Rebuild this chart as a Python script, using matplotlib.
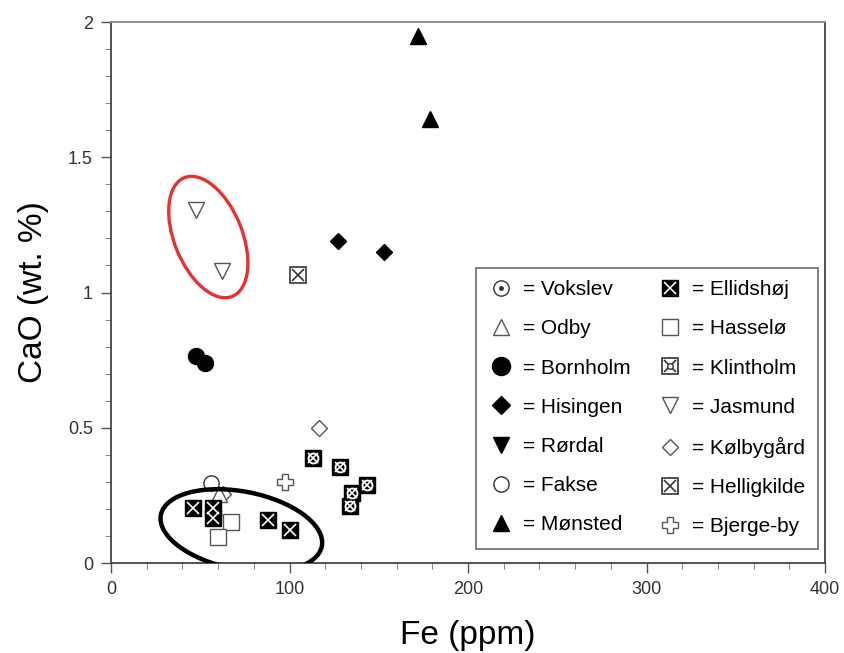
import numpy as np
import matplotlib.pyplot as plt
from matplotlib.lines import Line2D
from matplotlib.patches import Ellipse
from matplotlib import transforms
from matplotlib.legend_handler import HandlerTuple

plt.rcParams['font.family'] = ['Liberation Sans', 'DejaVu Sans']

# data (Fe ppm, CaO wt.%)
monsted_fe = [172, 178.5]
monsted_cao = [1.95, 1.64]
hisingen_fe = [127, 153]
hisingen_cao = [1.19, 1.15]
jasmund_fe = [47.5, 62]
jasmund_cao = [1.305, 1.08]
bornholm_fe = [47.5, 52.5]
bornholm_cao = [0.765, 0.74]
kolbygard_fe = [116.5, 63]
kolbygard_cao = [0.50, 0.255]
bjerge_fe = [97.5]
bjerge_cao = [0.30]
klintholm_fe = [113, 128.5, 135, 143.5, 134]
klintholm_cao = [0.39, 0.355, 0.26, 0.29, 0.21]
helligkilde_fe = [105]
helligkilde_cao = [1.065]
fakse_fe = [56]
fakse_cao = [0.296]
odby_fe = [60.5]
odby_cao = [0.255]
ellidshoj_fe = [46, 57, 57, 88, 100]
ellidshoj_cao = [0.205, 0.205, 0.168, 0.16, 0.122]
hasselo_fe = [67, 60]
hasselo_cao = [0.152, 0.098]

fig = plt.figure(figsize=(8.45, 6.53), dpi=100)
ax = fig.add_axes([0.1314, 0.1378, 0.845, 0.8285])

def ellidshoj_style(ms):
    return [dict(marker='s', ms=ms, mfc='black', mec='black', ls='none'),
            dict(marker='x', ms=ms * 0.75, mec='white', mew=1.2, ls='none')]

def klintholm_style(ms):
    return [dict(marker='s', ms=ms, mfc='black', mec='black', ls='none'),
            dict(marker='o', ms=ms * 0.62, mfc='none', mec='white', mew=1.4, ls='none'),
            dict(marker='x', ms=ms * 0.6, mec='white', mew=1.2, ls='none')]

def helligkilde_style(ms):
    return [dict(marker='s', ms=ms, mfc='white', mec='#333333', mew=1.2, ls='none'),
            dict(marker='x', ms=ms * 0.85, mec='#333333', mew=1.2, ls='none')]

def plot_layers(x, y, layers):
    for st in layers:
        ax.plot(x, y, **st, zorder=3)

plot_layers(monsted_fe, monsted_cao, [dict(marker='^', ms=12, color='black', ls='none')])
plot_layers(hisingen_fe, hisingen_cao, [dict(marker='D', ms=8.5, color='black', ls='none')])
plot_layers(jasmund_fe, jasmund_cao, [dict(marker='v', ms=11, mfc='white', mec='#555555', ls='none')])
plot_layers(bornholm_fe, bornholm_cao, [dict(marker='o', ms=11.5, color='black', ls='none')])
plot_layers(kolbygard_fe, kolbygard_cao, [dict(marker='D', ms=8, mfc='white', mec='#555555', ls='none')])
plot_layers(bjerge_fe, bjerge_cao, [dict(marker='P', ms=12, mfc='white', mec='#555555', ls='none')])
plot_layers(helligkilde_fe, helligkilde_cao, helligkilde_style(11))
plot_layers(klintholm_fe, klintholm_cao, klintholm_style(11.5))
plot_layers(fakse_fe, fakse_cao, [dict(marker='o', ms=11, mfc='white', mec='#333333', ls='none')])
plot_layers(odby_fe, odby_cao, [dict(marker='^', ms=11, mfc='white', mec='#555555', ls='none')])
plot_layers(ellidshoj_fe, ellidshoj_cao, ellidshoj_style(12))
plot_layers(hasselo_fe, hasselo_cao, [dict(marker='s', ms=12, mfc='white', mec='#555555', ls='none')])

# hand-drawn group outlines (sizes in inches, centred on data coords)
def outline(cx, cy, w, h, ang, color, lw):
    tr = fig.dpi_scale_trans + transforms.ScaledTranslation(cx, cy, ax.transData)
    ax.add_patch(Ellipse((0, 0), w, h, angle=ang, transform=tr, fill=False,
                         ec=color, lw=lw, zorder=4))

outline(73, 0.12, 1.64, 0.78, -11, 'black', 3.2)
outline(54.5, 1.205, 0.68, 1.28, 22, '#e8302e', 2.4)

ax.set_xlim(0, 400)
ax.set_ylim(0, 2)
ax.set_xticks([0, 100, 200, 300, 400])
ax.set_xticks(np.arange(0, 401, 20), minor=True)
ax.set_yticks([0, 0.5, 1, 1.5, 2])
ax.set_yticklabels(['0', '0.5', '1', '1.5', '2'])
ax.set_yticks(np.arange(0, 2.01, 0.1), minor=True)
ax.tick_params(which='major', direction='out', length=7, width=1, color='#555555',
               labelsize=13, labelcolor='#333333', pad=6)
ax.tick_params(which='minor', direction='out', length=4, width=0.8, color='#888888')
for s in ax.spines.values():
    s.set_color('#444444')
    s.set_linewidth(1.3)
ax.spines['top'].set_color('#888888')

ax.set_xlabel('Fe (ppm)', fontsize=24, labelpad=16)
ax.set_ylabel('CaO (wt. %)', fontsize=24, labelpad=14)

def h(layers):
    return tuple(Line2D([], [], **st) for st in layers)

grey = '#555555'
names = ['Vokslev', 'Odby', 'Bornholm', 'Hisingen', 'Rørdal', 'Fakse', 'Mønsted',
         'Ellidshøj', 'Hasselø', 'Klintholm', 'Jasmund', 'Kølbygård', 'Helligkilde', 'Bjerge-by']
handles = [
    h([dict(marker='o', ms=11, mfc='white', mec='#333333', ls='none'),
       dict(marker='o', ms=2.5, color='#333333', ls='none')]),
    h([dict(marker='^', ms=11, mfc='white', mec=grey, ls='none')]),
    h([dict(marker='o', ms=13, color='black', ls='none')]),
    h([dict(marker='D', ms=9, color='black', ls='none')]),
    h([dict(marker='v', ms=12, color='black', ls='none')]),
    h([dict(marker='o', ms=11, mfc='white', mec='#333333', ls='none')]),
    h([dict(marker='^', ms=12, color='black', ls='none')]),
    h(ellidshoj_style(11)),
    h([dict(marker='s', ms=12, mfc='white', mec=grey, ls='none')]),
    h([dict(marker='s', ms=11, mfc='white', mec='#333333', mew=1.2, ls='none'),
       dict(marker='x', ms=8, mec='#333333', mew=1.2, ls='none'),
       dict(marker='o', ms=4, mfc='white', mec='#333333', ls='none')]),
    h([dict(marker='v', ms=11, mfc='white', mec=grey, ls='none')]),
    h([dict(marker='D', ms=8, mfc='white', mec=grey, ls='none')]),
    h(helligkilde_style(11)),
    h([dict(marker='P', ms=12, mfc='white', mec=grey, ls='none')]),
]
leg = ax.legend(handles, ['= ' + n for n in names], ncol=2, loc='lower right',
                bbox_to_anchor=(0.99, 0.026), borderaxespad=0, fontsize=15,
                frameon=True, fancybox=False, edgecolor='#555555', labelspacing=0.97,
                handlelength=1.2, handletextpad=0.45, columnspacing=1.3, borderpad=0.6,
                handler_map={tuple: HandlerTuple(ndivide=1, pad=0)})
leg.get_frame().set_linewidth(1.3)
leg.set_zorder(5)

fig.savefig('out.png', dpi=100)
